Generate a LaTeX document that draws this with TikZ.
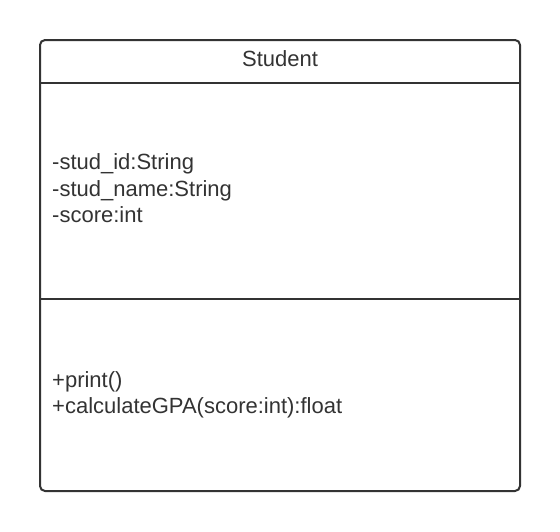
\documentclass[tikz,border=0pt]{standalone}
\usepackage{fontspec}
\setmainfont{Liberation Sans}
\definecolor{umlgray}{HTML}{333333}
\begin{document}
\begin{tikzpicture}[x=1pt,y=-1pt,
    classline/.style={umlgray,line width=2pt},
    classtext/.style={text=umlgray,font=\fontsize{22}{26.5}\selectfont,inner sep=0pt}]
      \useasboundingbox (0,0) rectangle (560,531);
      \coordinate (NW) at (40,40);
      \coordinate (SE) at (520,491);
      \coordinate (HL) at (40,83);
      \coordinate (HR) at (520,83);
      \coordinate (ML) at (40,299);
      \coordinate (MR) at (520,299);
      \draw[classline, rounded corners=5pt] (NW) rectangle (SE);
      \draw[classline] (HL) -- (HR);
      \draw[classline] (ML) -- (MR);
      \node[classtext, anchor=base] (name) at (280,66) {Student};
      \node[classtext, anchor=base west] (attr1) at (52,169) {-stud\_id:String};
      \node[classtext, anchor=base west] (attr2) at (52,196) {-stud\_name:String};
      \node[classtext, anchor=base west] (attr3) at (52,222.5) {-score:int};
      \node[classtext, anchor=base west] (meth1) at (52,387) {+print()};
      \node[classtext, anchor=base west] (meth2) at (52,413.5) {+calculateGPA(score:int):float};
    \end{tikzpicture}
\end{document}
